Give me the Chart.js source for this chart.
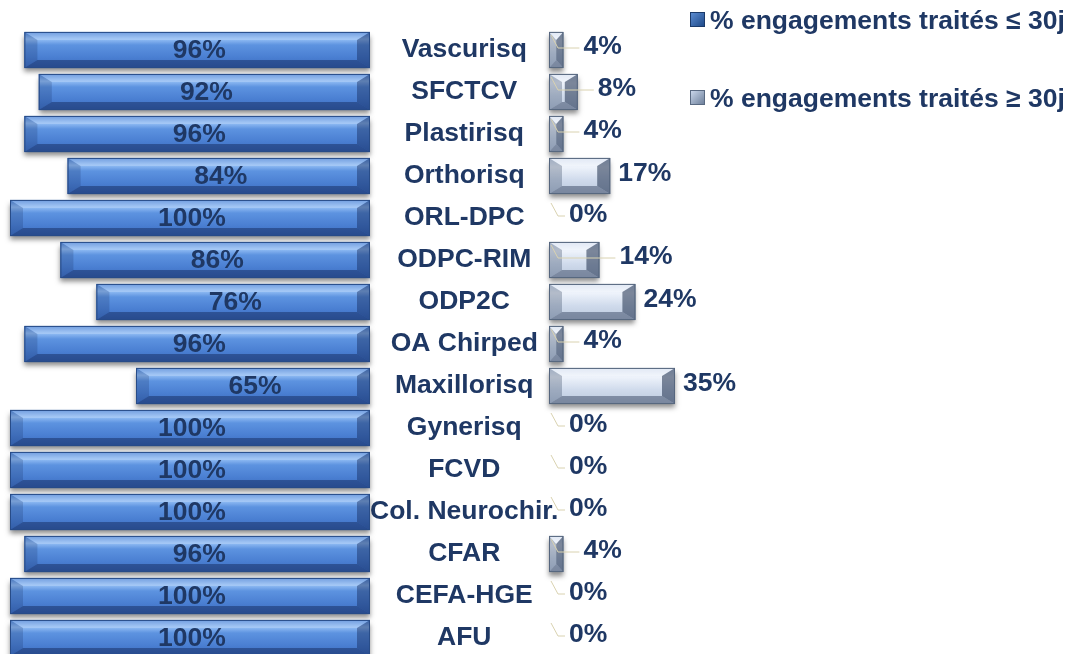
<!DOCTYPE html>
<html>
<head>
<meta charset="utf-8">
<script src="https://cdn.jsdelivr.net/npm/chart.js@4"></script>
<style>
  body { margin: 0; background: #fff; overflow: hidden; width: 1075px; height: 654px; position: relative; font-family: "Liberation Sans", Arial, sans-serif; }
  #left { position: absolute; left: 0; top: 0; }
  #right { position: absolute; left: 539px; top: 0; }
  .leg { position: absolute; left: 690px; font-weight: bold; font-size: 26.5px; color: #1F3864; white-space: nowrap; line-height: 30px; }
  .leg i { display: inline-block; width: 13px; height: 13px; margin-right: 5px; vertical-align: 2px; }
  #leg1 { top: 5px; }
  #leg2 { top: 83px; }
  #leg1 i { background: linear-gradient(135deg, #5b8bd0, #1f4a8a); border: 1px solid #1b3a6a; }
  #leg2 i { background: linear-gradient(135deg, #c9d6ea, #6f819c); border: 1px solid #5a6a82; }
</style>
</head>
<body>
<canvas id="left" width="580" height="670"></canvas>
<canvas id="right" width="536" height="670"></canvas>
<div class="leg" id="leg1"><i></i>% engagements traités ≤ 30j</div>
<div class="leg" id="leg2"><i></i>% engagements traités ≥ 30j</div>
<script>
// Délai de traitement des engagements par organisme
const categories = ['Vascurisq', 'SFCTCV', 'Plastirisq', 'Orthorisq', 'ORL-DPC', 'ODPC-RIM', 'ODP2C', 'OA Chirped',
  'Maxillorisq', 'Gynerisq', 'FCVD', 'Col. Neurochir.', 'CFAR', 'CEFA-HGE', 'AFU'];
const traitesMoins30 = [96, 92, 96, 84, 100, 86, 76, 96, 65, 100, 100, 100, 96, 100, 100];
const traitesPlus30 = [4, 8, 4, 17, 0, 14, 24, 4, 35, 0, 0, 0, 4, 0, 0];

const navy = '#1F3864';
const font = { family: '"Liberation Sans", Arial, sans-serif', weight: 'bold', size: 26.5 };

const bleu = {
  stops: [[0, '#5187d8'], [0.2, '#92bdf4'], [0.36, '#5d93e0'], [0.7, '#4a7fd2'], [1, '#3c6cbd']],
  border: '#284c88',
  faces: ['rgba(255,255,255,0.18)', 'rgba(10,25,70,0.40)', 'rgba(10,25,70,0.18)', 'rgba(10,25,70,0.38)']
};
const gris = {
  stops: [[0, '#d3def0'], [0.25, '#eef3fb'], [0.6, '#d0dbec'], [1, '#b9c7dc']],
  border: '#56667e',
  faces: ['rgba(255,255,255,0.30)', 'rgba(30,45,75,0.42)', 'rgba(30,45,75,0.28)', 'rgba(30,45,75,0.55)']
};

function drawBevelBar(ctx, x0, x1, top, bot, pal) {
  const w = x1 - x0, h = bot - top;
  if (w < 1) return;
  ctx.save();
  ctx.shadowColor = 'rgba(0,0,0,0.45)';
  ctx.shadowBlur = 5;
  ctx.shadowOffsetY = 4;
  ctx.fillStyle = pal.border;
  ctx.fillRect(x0, top, w, h);
  ctx.restore();

  const g = ctx.createLinearGradient(0, top, 0, bot);
  pal.stops.forEach(s => g.addColorStop(s[0], s[1]));
  ctx.fillStyle = g;
  ctx.fillRect(x0, top, w, h);

  const bx = Math.min(13, w / 2), by = Math.min(8, h / 2);
  const faces = [
    [[x0, top], [x1, top], [x1 - bx, top + by], [x0 + bx, top + by]],
    [[x0, bot], [x1, bot], [x1 - bx, bot - by], [x0 + bx, bot - by]],
    [[x0, top], [x0 + bx, top + by], [x0 + bx, bot - by], [x0, bot]],
    [[x1, top], [x1 - bx, top + by], [x1 - bx, bot - by], [x1, bot]]
  ];
  faces.forEach((f, k) => {
    ctx.beginPath();
    ctx.moveTo(f[0][0], f[0][1]);
    for (let i = 1; i < 4; i++) ctx.lineTo(f[i][0], f[i][1]);
    ctx.closePath();
    ctx.fillStyle = pal.faces[k];
    ctx.fill();
  });
  ctx.strokeStyle = pal.border;
  ctx.lineWidth = 1;
  ctx.strokeRect(x0 + 0.5, top + 0.5, w - 1, h - 1);
}

// dessine les barres en relief puis les étiquettes
const reliefPlugin = {
  id: 'relief',
  afterDatasetsDraw(chart, args, opts) {
    const ctx = chart.ctx;
    const meta = chart.getDatasetMeta(0);
    const values = chart.data.datasets[0].data;
    meta.data.forEach(bar => {
      const p = bar.getProps(['x', 'y', 'base', 'height'], true);
      const x0 = Math.min(p.x, p.base), x1 = Math.max(p.x, p.base);
      drawBevelBar(ctx, x0, x1, p.y - p.height / 2, p.y + p.height / 2, opts.palette);
    });
    ctx.save();
    ctx.font = 'bold 26.5px "Liberation Sans", Arial, sans-serif';
    ctx.fillStyle = navy;
    ctx.textBaseline = 'middle';
    meta.data.forEach((bar, i) => {
      const p = bar.getProps(['x', 'y', 'base', 'height'], true);
      const v = values[i];
      const txt = v + '%';
      if (opts.inside) {
        ctx.textAlign = 'center';
        ctx.fillText(txt, (p.x + p.base) / 2 + 2, p.y + 1);
      } else {
        ctx.textAlign = 'left';
        const end = Math.max(p.x, p.base);
        if (v >= 17) {
          ctx.fillText(txt, end + 8, p.y - 2);
        } else {
          const tx = end + 20;
          ctx.strokeStyle = '#d9d2b0';
          ctx.lineWidth = 1;
          ctx.beginPath();
          ctx.moveTo(p.base + 2, p.y - 15);
          ctx.lineTo(p.base + 9, p.y - 2);
          ctx.lineTo(tx - 4, p.y - 2);
          ctx.stroke();
          ctx.fillText(txt, tx, p.y - 3);
        }
      }
    });
    ctx.restore();
  }
};

const commun = {
  indexAxis: 'y',
  responsive: false,
  animation: false,
  plugins: { legend: { display: false }, tooltip: { enabled: false } }
};

// graphique de gauche : barres vers la gauche, noms des organismes à droite
new Chart(document.getElementById('left'), {
  type: 'bar',
  data: {
    labels: categories,
    datasets: [{
      label: '% engagements traités ≤ 30j',
      data: traitesMoins30,
      backgroundColor: 'rgba(0,0,0,0)',
      borderWidth: 0,
      barPercentage: 0.86,
      categoryPercentage: 1
    }]
  },
  options: {
    ...commun,
    layout: { padding: { left: 10, right: 0, top: 29, bottom: 11 } },
    scales: {
      x: { display: false, reverse: true, min: 0, max: 100 },
      y: {
        position: 'right',
        grid: { display: false },
        border: { display: false },
        ticks: { color: navy, font: font, crossAlign: 'center', padding: -8 },
        afterFit(scale) { scale.width = 210; }
      }
    },
    plugins: { ...commun.plugins, relief: { palette: bleu, inside: true } }
  },
  plugins: [reliefPlugin]
});

new Chart(document.getElementById('right'), {
  type: 'bar',
  data: {
    labels: categories,
    datasets: [{
      label: '% engagements traités ≥ 30j',
      data: traitesPlus30,
      backgroundColor: 'rgba(0,0,0,0)',
      borderWidth: 0,
      barPercentage: 0.86,
      categoryPercentage: 1
    }]
  },
  options: {
    ...commun,
    layout: { padding: { left: 10, right: 166, top: 29, bottom: 11 } },
    scales: {
      x: { display: false, min: 0, max: 100 },
      y: { display: false }
    },
    plugins: { ...commun.plugins, relief: { palette: gris, inside: false } }
  },
  plugins: [reliefPlugin]
});
</script>
</body>
</html>
